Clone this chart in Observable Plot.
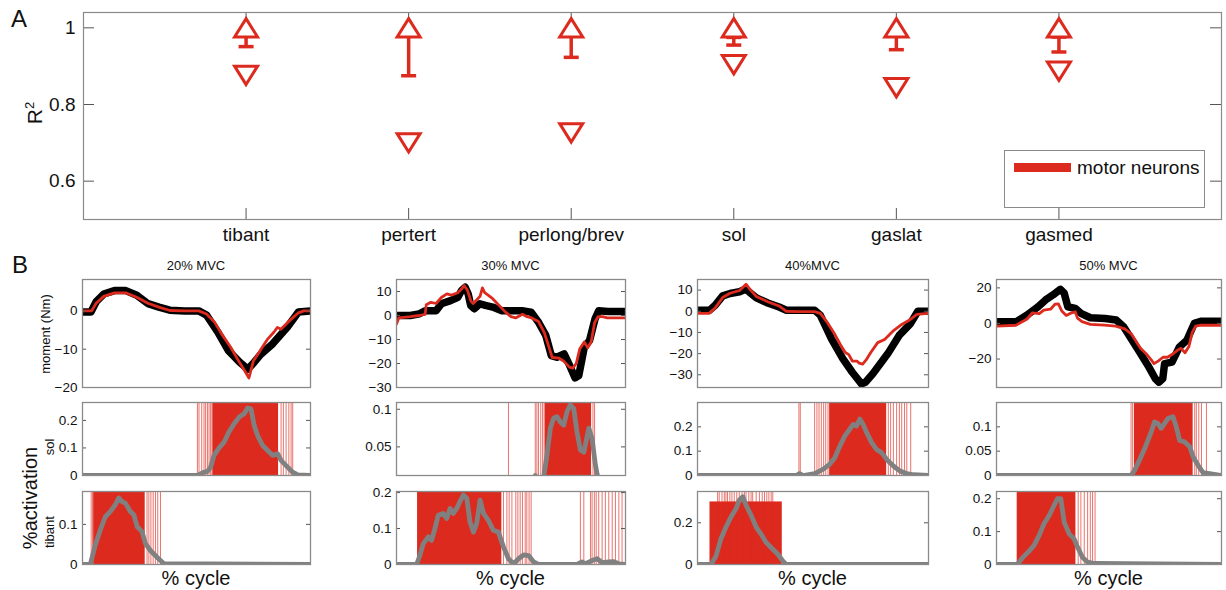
<!DOCTYPE html>
<html><head><meta charset="utf-8">
<script src="https://cdn.jsdelivr.net/npm/d3@7"></script>
<script src="https://cdn.jsdelivr.net/npm/@observablehq/plot@0.6"></script>
<style>
body{margin:0;background:#fff;}
#root{position:relative;width:1226px;height:590px;font-family:"Liberation Sans",Arial,sans-serif;overflow:hidden;background:#fff;}
.lbl{position:absolute;white-space:nowrap;color:#111;line-height:1;}
.lbl sup{font-size:0.62em;vertical-align:0.55em;}
</style></head><body><div id="root"></div>
<script>
// ---------- Panel A data ----------
const muscles = ["tibant","pertert","perlong/brev","sol","gaslat","gasmed"];
const musclePos = [1,2,3,4,5,6];
const r2Max  = [1.0, 1.0, 1.0, 1.0, 1.0, 1.0];
const r2Min  = [0.876, 0.700, 0.726, 0.904, 0.844, 0.887];
const r2Mean = [0.982, 0.985, 0.985, 0.975, 0.984, 0.976];
const r2Low  = [0.951, 0.875, 0.923, 0.955, 0.943, 0.937];
const yTicksA = [0.6, 0.8, 1];
const legendLabel = "motor neurons";

// ---------- Panel B data ----------
const conditions = ["20% MVC","30% MVC","40%MVC","50% MVC"];
// moment (Nm) vs % cycle : measured (black) and motor-neuron model (red)
const m20Meas = [[0,-0.3],[3.7,-0.3],[6,2.4],[9.3,4.4],[14,5.3],[19,5.3],[23.8,4.1],[28.7,1.9],[33.5,1],[38.3,0.2],[44.8,0],[51,0],[54.4,-1.1],[59.3,-5.5],[64,-10.4],[68.9,-13.4],[72.5,-15.2],[74.6,-13.9],[77.8,-11.6],[83.4,-8.6],[89.9,-4.2],[94.7,-0.3],[100,0]];
const m20Model = [[0,0],[4,0],[6,2],[9.3,3.8],[14,4.7],[19,4.7],[24,3.5],[28.7,2],[33.5,1],[38.3,0.1],[44.8,0],[51,0],[54.4,-0.8],[58,-3],[61,-6],[65,-9.5],[68.9,-13.5],[71,-15.5],[73,-17.5],[75,-13],[77.8,-10.5],[81,-7.5],[84,-5.5],[85.5,-4.3],[87,-4.8],[90,-3],[94.7,-0.5],[97,0],[100,0]];
const m30Meas = [[0,0],[6,0],[10,0.7],[12.5,2],[17.3,2],[19.6,4.9],[23.6,6.2],[26.8,7.6],[28.4,10.4],[30,11.8],[31.3,9],[32.4,4.2],[34,2.8],[36.4,4.9],[38.8,4.2],[42,3.5],[46,2],[50.8,2],[54.8,2],[58.8,1.4],[62,-2.8],[65.2,-8.3],[67.6,-16.7],[70,-17.4],[73.2,-16],[75.6,-20.8],[78,-26],[79.6,-25],[82,-13.2],[84.3,-10.4],[86.7,-1.4],[88.3,2],[92.3,1.7],[100,1.7]];
const m30Model = [[0,-3.5],[1,-1],[6,-0.5],[10,0],[12.5,0.5],[13,4.5],[15,5.5],[17.3,5],[19.6,7.5],[22,9],[24,8.5],[26.8,9.5],[28.4,11],[29.5,12.5],[31,10.5],[32.5,6],[33.5,5],[35,6.5],[36.5,8],[37.5,11.5],[38.5,9.5],[40,8.5],[42,7],[45,4],[47.5,1.5],[50,-0.5],[52,-1],[55,0.5],[57,-0.5],[59,-1],[62,-2.5],[64.5,-7],[66.5,-13],[68,-17.5],[71,-17.8],[73,-19],[75.5,-21.5],[77,-21.9],[78.5,-20],[80,-14],[82,-11],[83.5,-13.5],[85,-11],[86.5,-3],[88,-0.5],[90,-0.5],[92,-1],[100,-1]];
const m40Meas = [[0,0.5],[5.2,0.5],[7.6,2.8],[10.9,7.3],[14.1,8.4],[18.2,9.2],[20.7,10.4],[22.3,9.2],[25.5,6.3],[30.4,3.9],[35.3,2],[38.5,0.5],[43.4,0.5],[50.7,0.5],[53.2,-1.9],[58,-13],[62.9,-22.4],[67,-28.8],[71,-34.3],[72.7,-33.5],[75.9,-29.5],[82.4,-20],[87.3,-11.4],[92.2,-5.8],[95.4,0],[100,0]];
const m40Model = [[0,-1],[5,-1],[7.6,1.5],[10.9,6.5],[14.1,8.5],[18.2,9.8],[21,12.8],[23,10],[25.5,7],[30.4,4.5],[35.3,2.5],[38.5,0],[43.4,-0.2],[50.7,-0.2],[53.2,-1],[56,-5],[59.5,-11],[62,-16],[64,-19.5],[65.5,-20.5],[67,-23.5],[69,-23.5],[70,-24.5],[71.5,-25],[73,-23],[75,-19.5],[78,-14.8],[81,-13.3],[85,-9],[88,-6.5],[92,-4],[95,-1.5],[100,-1]];
const m50Meas = [[0,0.9],[8.6,0.9],[13.6,4.7],[18.5,9.4],[21.8,13.2],[25.1,16],[28.4,19.2],[30.1,17],[31.7,9.4],[35,8.5],[37.5,5.7],[41.7,3.2],[48.3,2.8],[53.2,1.9],[56.5,-1.9],[59.8,-8.5],[63.1,-15.1],[67.3,-23.6],[70.6,-31.1],[72.2,-33],[73.9,-31.1],[74.7,-22.6],[78,-21.7],[81.3,-13.2],[84.6,-9.4],[87.9,0],[91.2,1.3],[100,1.3]];
const m50Model = [[0,-1.5],[8.6,-1],[13.6,2.5],[16,6],[19,5.5],[21,7.5],[24,8],[26,10.8],[27.5,11],[29,7],[31,4.5],[32.5,5.5],[35,6.6],[36,3],[38,1],[41.7,-0.5],[48,-1],[53,-1.5],[57,-3],[59.8,-5.7],[62,-10],[64,-14],[66.5,-17],[68.5,-20],[70,-22.6],[72,-21],[74,-19],[76,-19],[78.5,-17],[80.5,-15],[82,-14],[83.8,-16.5],[85.5,-13],[87,-5],[88.5,-1.5],[91,-1],[100,-1]];

// activation (gray) vs % cycle
const a20sol = [[0,0],[50.4,0],[52.6,0.01],[54.8,0.015],[56.2,0.03],[57.7,0.073],[59.9,0.1],[62.1,0.121],[64.2,0.158],[66.5,0.188],[68.7,0.212],[70.9,0.224],[72.4,0.245],[73.9,0.242],[75.3,0.182],[76.8,0.145],[79,0.109],[81.2,0.091],[83.4,0.073],[85.6,0.079],[87.1,0.055],[89.3,0.036],[92.2,0.012],[94.4,0.002],[100,0]];
const a20tib = [[0,0],[3.4,0],[5.6,0.048],[7.8,0.086],[10,0.119],[12.2,0.132],[14.4,0.149],[15.9,0.166],[17.3,0.157],[18.8,0.153],[21,0.132],[22.5,0.124],[24,0.094],[26.1,0.082],[27.6,0.052],[29.8,0.035],[32.7,0.018],[35.7,0.002],[100,0]];
const a30sol = [[0,0],[60,0],[60.6,0.012],[61.5,0],[64.2,0.008],[65.7,0.039],[67.2,0.075],[68.6,0.088],[70.1,0.09],[71.5,0.083],[73,0.079],[74.5,0.097],[75.9,0.106],[77.4,0.101],[78.8,0.07],[80.3,0.046],[81.8,0.043],[84,0.075],[85.4,0.061],[86.9,0.025],[88,0.008],[100,0]];
const a30tib = [[0,0],[8.8,0],[10.2,0.025],[11.7,0.058],[13.9,0.077],[15.3,0.067],[16.8,0.1],[18.2,0.137],[20.4,0.142],[21.9,0.128],[23.4,0.156],[24.8,0.142],[26.3,0.156],[27.7,0.175],[29.2,0.193],[30.7,0.184],[32.1,0.118],[33.6,0.09],[35,0.114],[36.5,0.179],[38,0.142],[40.1,0.123],[42.3,0.095],[44.5,0.09],[46.7,0.049],[48.9,0.016],[51.1,0.002],[53.3,0.016],[55.5,0.027],[57.7,0.025],[59.9,0.007],[62,0],[78.8,0],[81,0.007],[82.5,0.002],[85.4,0.011],[87.6,0.016],[89.8,0.005],[92.7,0.007],[94.9,0.008],[97.1,0.002],[100,0]];
const a40sol = [[0,0],[42.8,0],[44.2,0.008],[45.7,0],[50.7,0.008],[54.3,0.025],[57.2,0.046],[59.4,0.072],[61.6,0.121],[63.8,0.163],[65.9,0.19],[67.4,0.21],[68.8,0.203],[70.3,0.232],[71.7,0.21],[73.2,0.177],[75.4,0.135],[77.5,0.107],[79.7,0.094],[81.9,0.066],[84.8,0.039],[87.7,0.018],[90.6,0.008],[93.5,0.003],[100,0]];
const a40tib = [[0,0],[5.8,0],[8,0.04],[10.1,0.122],[12.3,0.179],[14.5,0.228],[16.7,0.268],[18.1,0.309],[19.6,0.325],[21,0.285],[23.2,0.236],[25.4,0.179],[27.5,0.146],[29.7,0.106],[32.6,0.073],[34.8,0.049],[37,0.016],[38.4,0],[100,0]];
const a50sol = [[0,0],[59.8,0],[61.3,0.01],[63.5,0.031],[65.8,0.055],[67.3,0.072],[68.8,0.09],[70.2,0.11],[71.7,0.107],[73.2,0.097],[74.7,0.107],[76.2,0.117],[78.4,0.121],[79.9,0.1],[81.4,0.072],[83.6,0.069],[85.9,0.059],[87.4,0.038],[89.6,0.021],[91.8,0.006],[100,0]];
const a50tib = [[0,0],[9.2,0],[11.5,0.02],[14.4,0.04],[16.7,0.058],[18.9,0.088],[21.1,0.124],[23.4,0.149],[25.6,0.18],[27.1,0.2],[28.6,0.2],[30.1,0.128],[32.3,0.093],[34.5,0.078],[36,0.053],[38.2,0.022],[40.5,0.007],[43.5,0.003],[100,0]];

// motor neuron discharges (% cycle): dense bursts [start,end] and isolated spikes
const sol20Bursts = [[57.2,86]];
const sol20Spikes = [50.4,51.1,52.3,53.3,54,54.8,55.5,56.2,56.8,87.1,88.1,89.3,90.5,91.5,92.2];
const tib20Bursts = [[4.9,27.5]];
const tib20Spikes = [3.8,4.4,28.3,29.1,30,31,32,33,34.2];
const sol30Bursts = [[65,85.2]];
const sol30Spikes = [48.9,60.6,61.3,62,63,63.8,64.5,85.8,86.5];
const tib30Bursts = [[9.2,46]];
const tib30Spikes = [46.7,48.2,49.2,50.4,52.1,53,54,55,56.2,56.9,57.9,58.8,80.3,81.8,84.7,85.4,86.4,87.2,88.3,89.8,91.2,92.7,94.2,95.6,97.1,98.5];
const sol40Bursts = [[57.2,81.9]];
const sol40Spikes = [43.9,44.5,50.7,51.7,52.6,53.6,54.6,55.5,56.5,82.6,83.6,84.8,86.2,87.4,88.4,89.6,90.6,92.3];
const tib40Bursts = [[5.4,36.7]];
const tib40BurstTop = 0.3;
const tib40Spikes = [8.7,9.4,10.6,11.6,12.3,13,14,14.9,15.9,17,18.1,19.3,20.3,21,22.2,23.2,23.9,25.4,26.8,28,29,30,30.9,31.9,32.6];
const sol50Bursts = [[61.3,87.4]];
const sol50Spikes = [59.8,60.5,88.1,88.8,89.9,91.1,93.3];
const tib50Bursts = [[9.2,35.3]];
const tib50Spikes = [36.3,37.5,39,40.5,41.7,42.7,43.8];

// axis domains and ticks
const momentDomains = [[-20,8.2],[-30,15],[-36,15],[-36,24.7]];
const momentTicks = [[-20,-10,0],[-30,-20,-10,0,10],[-30,-20,-10,0,10],[-20,0,20]];
const solDomains = [[0,0.265],[0.012,0.109],[0,0.3],[0,0.15]];
const solTicks = [[0,0.1,0.2],[0.05,0.1],[0,0.1,0.2],[0,0.05,0.1]];
const tibDomains = [[0,0.182],[0,0.203],[0,0.35],[0,0.222]];
const tibTicks = [[0,0.1],[0,0.1,0.2],[0,0.2],[0,0.1,0.2]];

// ---------- drawing ----------
const root = document.getElementById("root");
const RED = "#dd2a1e", GRAY = "#808080", FRAME = "#8a8a8a", TICK = "#555";
const FONT = "'Liberation Sans', Arial, sans-serif";

function place(el, left, top) {
  el.style.position = "absolute";
  el.style.left = left + "px";
  el.style.top = top + "px";
  root.appendChild(el);
}
function txt(s, cx, cy, size, rot = 0, html = false) {
  const d = document.createElement("div");
  d.className = "lbl";
  if (html) d.innerHTML = s; else d.textContent = s;
  d.style.fontSize = size + "px";
  d.style.left = cx + "px";
  d.style.top = cy + "px";
  d.style.transform = `translate(-50%,-50%) rotate(${rot}deg)`;
  root.appendChild(d);
}
const fmt = d => (d < 0 ? "\u2212" + Math.abs(d) : String(d));

// custom marker symbols (bbox-centred triangles, horizontal cap)
const triUp = {draw(ctx, size) { const r = Math.sqrt(size / Math.PI); const h = r * 0.8; ctx.moveTo(0, -h); ctx.lineTo(r, h); ctx.lineTo(-r, h); ctx.closePath(); }};
const triDown = {draw(ctx, size) { const r = Math.sqrt(size / Math.PI); const h = r * 0.8; ctx.moveTo(0, h); ctx.lineTo(r, -h); ctx.lineTo(-r, -h); ctx.closePath(); }};
const capSym = {draw(ctx, size) { const r = Math.sqrt(size / Math.PI); ctx.moveTo(-r, 0); ctx.lineTo(r, 0); }};

// ---- Panel A ----
(function () {
  const W = 1226, H = 250, ML = 83, MR = 5, MT = 12, MB = 31;
  const fw = W - ML - MR, fh = H - MT - MB;
  const rows = muscles.map((m, i) => ({m, x: musclePos[i], max: r2Max[i], min: r2Min[i], mean: r2Mean[i], low: r2Low[i]}));
  const svg = Plot.plot({
    width: W, height: H, marginLeft: ML, marginRight: MR, marginTop: MT, marginBottom: MB,
    style: {fontFamily: FONT, fontSize: "19px", color: "#111", background: "transparent", overflow: "visible"},
    x: {domain: [0, 7], ticks: musclePos, tickFormat: d => muscles[musclePos.indexOf(d)], tickSize: 0, tickPadding: 8, label: null},
    y: {domain: [0.5, 1.04], ticks: yTicksA, tickFormat: d => String(d), tickSize: 0, tickPadding: 8, label: null},
    marks: [
      Plot.ruleX(musclePos, {stroke: TICK, insetTop: fh - 11}),
      Plot.ruleX(musclePos, {stroke: TICK, insetBottom: fh - 11}),
      Plot.ruleY(yTicksA, {stroke: TICK, insetRight: fw - 11}),
      Plot.ruleY(yTicksA, {stroke: TICK, insetLeft: fw - 11}),
      Plot.frame({stroke: FRAME, strokeWidth: 1.2}),
      Plot.ruleX(rows, {x: "x", y1: "low", y2: "mean", stroke: RED, strokeWidth: 3.5}),
      Plot.dot(rows, {x: "x", y: "low", symbol: capSym, r: 7.5, stroke: RED, strokeWidth: 3.5}),
      Plot.dot(rows, {x: "x", y: "mean", symbol: capSym, r: 7.5, stroke: RED, strokeWidth: 3.5}),
      Plot.dot(rows, {x: "x", y: "max", symbol: triUp, r: 11.5, stroke: RED, strokeWidth: 3, fill: "white"}),
      Plot.dot(rows, {x: "x", y: "min", symbol: triDown, r: 11.5, stroke: RED, strokeWidth: 3, fill: "white"})
    ]
  });
  place(svg, 0, 0);
  // legend box
  const lg = document.createElement("div");
  lg.style.cssText = "position:absolute;left:1004px;top:150px;width:201px;height:58px;border:1px solid #8a8a8a;box-sizing:border-box;background:#fff;";
  const bar = document.createElement("div");
  bar.style.cssText = `position:absolute;left:9px;top:12px;width:57px;height:9px;background:${RED};`;
  lg.appendChild(bar);
  const lt = document.createElement("div");
  lt.textContent = legendLabel;
  lt.style.cssText = "position:absolute;left:72px;top:7px;font-size:19px;line-height:1;color:#111;white-space:nowrap;";
  lg.appendChild(lt);
  root.appendChild(lg);
  txt("A", 19, 19, 24);
  txt("R<sup>2</sup>", 34, 113, 21, -90, true);
})();

// ---- Panel B ----
const colLeft = [82, 396, 697, 996];
const colWidth = [228, 229, 231, 225];
const rowTop = [279, 402, 491];
const rowHeight = [108, 73, 73];

function smallPanel(col, row, domain, ticks, marks) {
  const ML = 45, MR = 6, MT = 4, MB = 4;
  const w = colWidth[col], h = rowHeight[row];
  const svg = Plot.plot({
    width: w + ML + MR, height: h + MT + MB, marginLeft: ML, marginRight: MR, marginTop: MT, marginBottom: MB,
    style: {fontFamily: FONT, fontSize: "13.5px", color: "#111", background: "transparent", overflow: "visible"},
    x: {domain: [0, 100], axis: null},
    y: {domain, ticks, tickFormat: fmt, tickSize: 0, tickPadding: 5, label: null},
    marks: [
      ...marks,
      Plot.ruleY(ticks, {stroke: TICK, insetRight: w - 4}),
      Plot.ruleY(ticks, {stroke: TICK, insetLeft: w - 4}),
      Plot.frame({stroke: FRAME, strokeWidth: 1.3})
    ]
  });
  place(svg, colLeft[col] - ML, rowTop[row] - MT);
}

const moments = [[m20Meas, m20Model], [m30Meas, m30Model], [m40Meas, m40Model], [m50Meas, m50Model]];
const solAct = [a20sol, a30sol, a40sol, a50sol];
const tibAct = [a20tib, a30tib, a40tib, a50tib];
const solBursts = [sol20Bursts, sol30Bursts, sol40Bursts, sol50Bursts];
const solSpikes = [sol20Spikes, sol30Spikes, sol40Spikes, sol50Spikes];
const tibBursts = [tib20Bursts, tib30Bursts, tib40Bursts, tib50Bursts];
const tibSpikes = [tib20Spikes, tib30Spikes, tib40Spikes, tib50Spikes];

for (let c = 0; c < 4; c++) {
  // moment
  smallPanel(c, 0, momentDomains[c], momentTicks[c], [
    Plot.line(moments[c][0], {stroke: "#000", strokeWidth: 7.5, strokeLinejoin: "round", clip: true}),
    Plot.line(moments[c][1], {stroke: RED, strokeWidth: 2.8, clip: true})
  ]);
  // sol activation
  const sd = solDomains[c];
  smallPanel(c, 1, sd, solTicks[c], [
    Plot.rect(solBursts[c], {x1: d => d[0], x2: d => d[1], y1: () => sd[0], y2: () => sd[1], fill: RED}),
    Plot.ruleX(solSpikes[c], {stroke: RED, strokeWidth: 1, strokeOpacity: 0.65}),
    Plot.line(solAct[c], {stroke: GRAY, strokeWidth: 4.8, clip: true})
  ]);
  // tibant activation
  const td = tibDomains[c];
  const top = c === 2 ? tib40BurstTop : td[1];
  smallPanel(c, 2, td, tibTicks[c], [
    Plot.rect(tibBursts[c], {x1: d => d[0], x2: d => d[1], y1: () => td[0], y2: () => top, fill: RED}),
    Plot.ruleX(tibSpikes[c], {stroke: RED, strokeWidth: 1, strokeOpacity: 0.65}),
    Plot.line(tibAct[c], {stroke: GRAY, strokeWidth: 4.8, clip: true})
  ]);
  const cx = colLeft[c] + colWidth[c] / 2;
  txt(conditions[c], cx, 265, 13);
  txt("% cycle", cx, 578, 20);
}
txt("B", 20, 265, 24);
txt("moment (Nm)", 45, 334, 13, -90);
txt("%activation", 30, 498, 20, -90);
txt("sol", 49, 447, 13, -90);
txt("tibant", 49, 532, 13, -90);
</script></body></html>
